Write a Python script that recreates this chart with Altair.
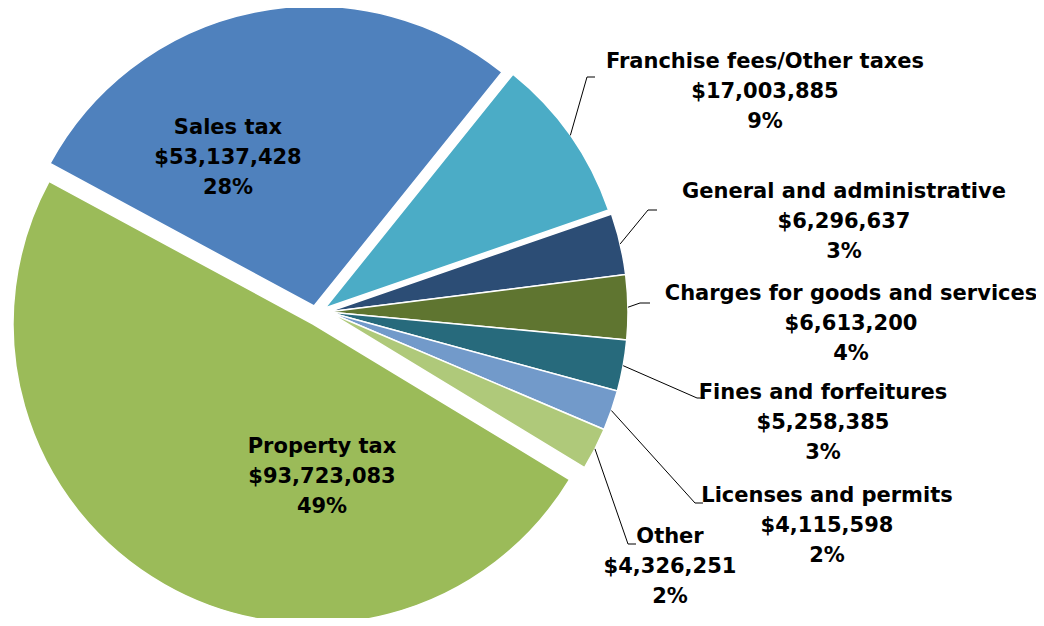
import math
import altair as alt
import pandas as pd

# ---------------- data ----------------
categories = [
    "Franchise fees/Other taxes",
    "General and administrative",
    "Charges for goods and services",
    "Fines and forfeitures",
    "Licenses and permits",
    "Other",
    "Property tax",
    "Sales tax",
]
amounts = [17003885, 6296637, 6613200, 5258385, 4115598, 4326251, 93723083, 53137428]
pct_labels = [9, 3, 4, 3, 2, 2, 49, 28]

# ---------------- style ----------------
colors = ["#4BACC6", "#2C4D75", "#5F7530", "#276A7C", "#729ACA", "#AFC97A", "#9BBB59", "#4F81BD"]
W, H = 1028, 610
CX, CY = 320, 304          # pie centre inside the view
R = 300                    # pie radius
START = math.radians(38.8) # angle of first slice edge (clockwise from 12 o'clock)
explode = {
    "Franchise fees/Other taxes": (-3, -4),
    "Property tax": (-15, 12),
    "Sales tax": (-14, -6),
}
# label anchor: (centre x, first-line baseline y)
label_pos = {
    "Franchise fees/Other taxes": (757, 60),
    "General and administrative": (836, 190),
    "Charges for goods and services": (843, 292),
    "Fines and forfeitures": (815, 391),
    "Licenses and permits": (819, 494),
    "Other": (662, 535),
    "Property tax": (314, 445),
    "Sales tax": (220, 126),
}
# leader line elbow and end points
leaders = {
    "Franchise fees/Other taxes": [(579, 69), (587, 69)],
    "General and administrative": [(640, 202), (649, 202)],
    "Charges for goods and services": [(632, 295), (642, 295)],
    "Fines and forfeitures": [(689, 390), (697, 390)],
    "Licenses and permits": [(687, 495), (695, 495)],
    "Other": [(620, 536), (628, 536)],
}
FONT = "DejaVu Sans"

# ---------------- derived tables ----------------
total = sum(amounts)
df = pd.DataFrame({"cat": categories, "amount": amounts, "pct": pct_labels})
df["end"] = df["amount"].cumsum()
df["start"] = df["end"] - df["amount"]
df["label"] = [f"{c}\n${a:,}\n{p}%" for c, a, p in zip(categories, amounts, pct_labels)]
df["lx"] = [label_pos[c][0] for c in categories]
df["ly"] = [label_pos[c][1] for c in categories]

rows = []
for _, r in df.iterrows():
    c = r["cat"]
    if c not in leaders:
        continue
    dx, dy = explode.get(c, (0, 0))
    mid = START + 2 * math.pi * (r["start"] + r["amount"] / 2) / total
    sx = CX + dx + R * math.sin(mid)
    sy = CY + dy - R * math.cos(mid)
    pts = [(sx, sy)] + leaders[c]
    for k, (px, py) in enumerate(pts):
        rows.append({"cat": c, "k": k, "px": px, "py": py})
lead_df = pd.DataFrame(rows)

theta_scale = alt.Scale(domain=[0, total], range=[START, START + 2 * math.pi])
color_scale = alt.Scale(domain=categories, range=colors)

layers = []
for c in categories:
    dx, dy = explode.get(c, (0, 0))
    layers.append(
        alt.Chart(df)
        .transform_filter(alt.datum.cat == c)
        .mark_arc(x=CX + dx, y=CY + dy, outerRadius=R, stroke="white", strokeWidth=1.5)
        .encode(
            theta=alt.Theta("start:Q", scale=theta_scale, stack=None),
            theta2="end:Q",
            color=alt.Color("cat:N", scale=color_scale, legend=None),
        )
    )

lines = (
    alt.Chart(lead_df)
    .mark_line(color="black", strokeWidth=1)
    .encode(
        x=alt.X("px:Q", scale=None, axis=None),
        y=alt.Y("py:Q", scale=None, axis=None),
        detail="cat:N",
        order="k:O",
    )
)

texts = (
    alt.Chart(df)
    .mark_text(
        align="center",
        baseline="alphabetic",
        lineBreak="\n",
        lineHeight=30,
        font=FONT,
        fontWeight="bold",
        fontSize=21,
        color="black",
    )
    .encode(
        x=alt.X("lx:Q", scale=None, axis=None),
        y=alt.Y("ly:Q", scale=None, axis=None),
        text="label:N",
    )
)

chart = (
    alt.layer(*layers, lines, texts)
    .properties(width=W, height=H, padding=0, autosize=alt.AutoSizeParams(type="none"), background="white")
    .configure_view(stroke=None)
)

chart.save("out.html", embed_options={"renderer": "svg", "actions": False})
